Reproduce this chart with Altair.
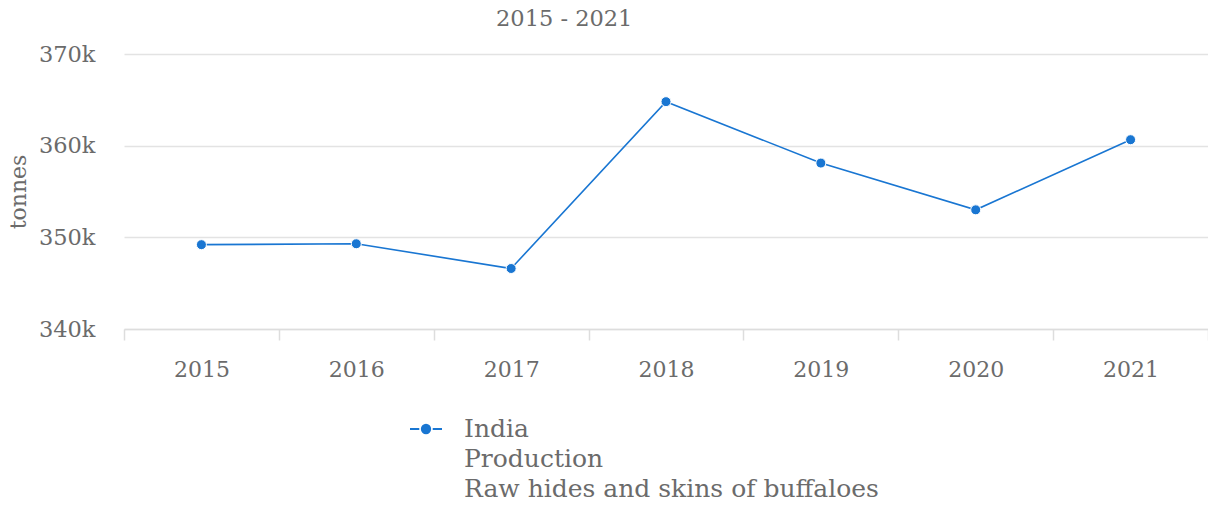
import altair as alt
import pandas as pd

years = ["2015", "2016", "2017", "2018", "2019", "2020", "2021"]
values = [349200, 349300, 346600, 364800, 358100, 353000, 360650]
series_name = "India|Production|Raw hides and skins of buffaloes"

df = pd.DataFrame({"year": years, "value": values, "series": [series_name] * len(years)})

FONT = "DejaVu Serif"
TXT = "#6b6b6b"
BLUE = "#1976d2"

sym = "M-1,0H-0.42M0.42,0H1M0.26,0A0.26,0.26,0,1,1,-0.26,0A0.26,0.26,0,1,1,0.26,0"

x = alt.X(
    "year:O",
    bandPosition=0.5,
    scale=alt.Scale(type="band", paddingInner=0, paddingOuter=0),
    axis=alt.Axis(
        title=None,
        labelAngle=0,
        tickBand="extent",
        domainColor="#dddddd",
        tickColor="#dddddd",
        tickSize=11,
        tickWidth=1.5,
        domainWidth=1.5,
        labelFontSize=22,
        labelPadding=19,
        labelColor=TXT,
        labelFont=FONT,
        grid=False,
    ),
)
y = alt.Y(
    "value:Q",
    scale=alt.Scale(domain=[340000, 370000], nice=False, zero=False),
    axis=alt.Axis(
        title="tonnes",
        titleFont=FONT,
        titleFontSize=22,
        titleFontWeight="normal",
        titleColor=TXT,
        titlePadding=8,
        values=[340000, 350000, 360000, 370000],
        format="~s",
        labelFont=FONT,
        labelFontSize=22.5,
        labelColor=TXT,
        labelPadding=29,
        domain=False,
        ticks=False,
        gridColor="#e3e3e3",
        gridWidth=1.5,
    ),
)
color = alt.Color(
    "series:N",
    scale=alt.Scale(range=[BLUE]),
    legend=alt.Legend(
        title=None,
        orient="none",
        legendX=285,
        legendY=358,
        symbolType=sym,
        symbolSize=1024,
        symbolStrokeWidth=2,
        symbolFillColor=BLUE,
        symbolStrokeColor=BLUE,
        labelExpr="split(datum.label, '|')",
        labelFont=FONT,
        labelFontSize=25,
        labelColor=TXT,
        labelLimit=1000,
        labelOffset=21,
        labelBaseline="middle",
    ),
)

line = alt.Chart(df).mark_line(strokeWidth=1.6).encode(x=x, y=y, color=color)
pts = alt.Chart(df).mark_point(filled=True, size=100, stroke="white", strokeWidth=1, opacity=1).encode(
    x=x, y=y, fill=alt.value(BLUE)
)

chart = (
    alt.layer(line, pts)
    .properties(
        width=1084,
        height=275,
        title=alt.TitleParams(
            "2015 - 2021",
            anchor="start",
            frame="group",
            dx=372,
            font=FONT,
            fontSize=22.5,
            fontWeight="normal",
            color=TXT,
            offset=13,
        ),
        autosize=alt.AutoSizeParams(type="none"),
        padding={"left": 116, "top": 46, "right": 0, "bottom": 168},
    )
    .configure(style={"guide-label": {"lineHeight": 30}})
    .configure_view(stroke=None)
)

chart.save("out.html", embed_options={"renderer": "svg", "actions": False})
